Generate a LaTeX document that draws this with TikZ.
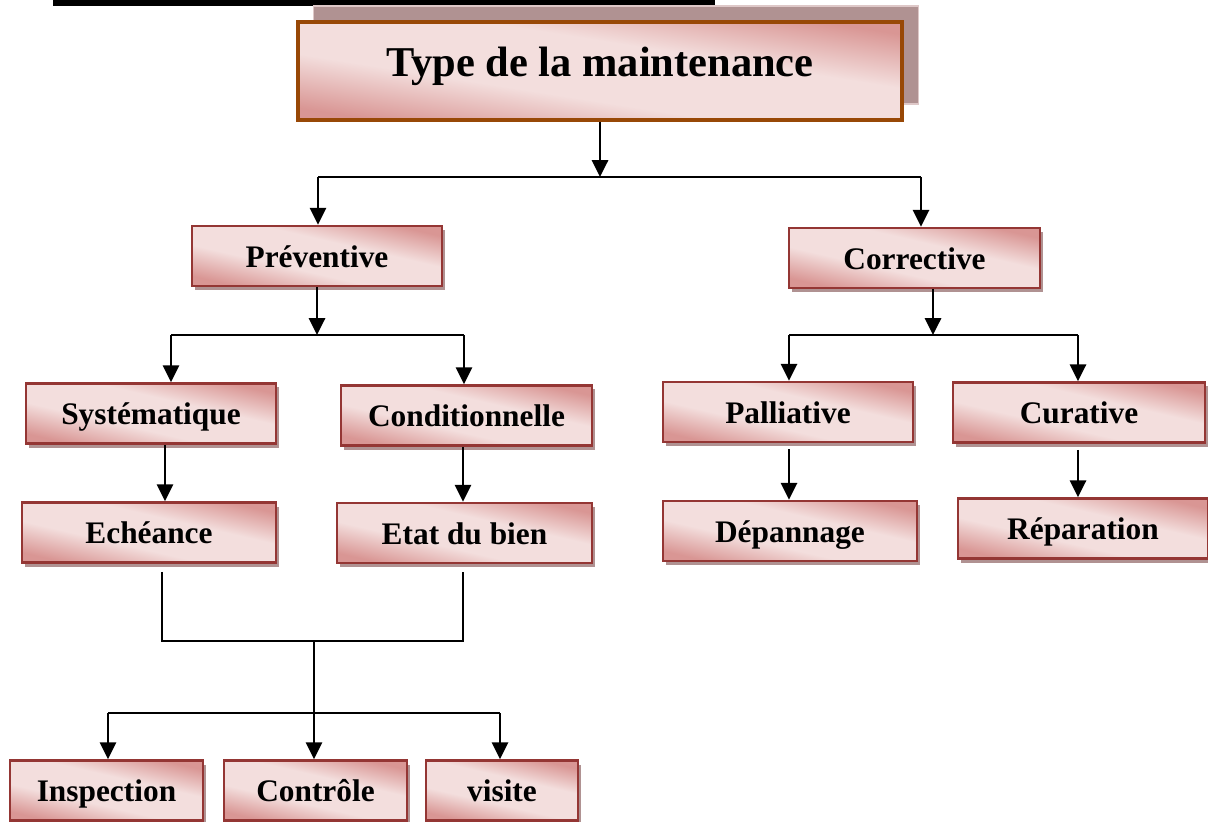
\documentclass[tikz,border=0pt]{standalone}
\usepackage{fontspec}
\setmainfont{Liberation Serif}
\usepackage{tikz}
\usetikzlibrary{positioning, arrows.meta, shadows}
\definecolor{boxline}{RGB}{148,54,52}
\definecolor{boxdark}{RGB}{217,150,148}
\definecolor{boxlight}{RGB}{243,222,221}
\definecolor{shadowgray}{RGB}{176,146,146}
\definecolor{shadowedge}{RGB}{222,200,200}
\definecolor{titleline}{RGB}{152,72,6}
\pgfdeclareverticalshading{pinkband}{100bp}{color(0bp)=(boxdark); color(25bp)=(boxdark);
  color(41bp)=(boxlight); color(59bp)=(boxlight); color(75bp)=(boxdark); color(100bp)=(boxdark)}

\begin{document}
\begin{tikzpicture}[x=0.025cm, y=-0.025cm,
  boxfill/.style={rectangle, draw=boxline, line width=1.8pt,
                  shade, shading=pinkband, shading angle=-13,
                  minimum height=1.5cm, inner sep=0pt,
                  text height=0.6cm, text depth=0.03cm,
                  font=\fontsize{22.3}{26}\selectfont\bfseries},
  typebox/.style={boxfill,
                  drop shadow={shadow xshift=0.07cm, shadow yshift=-0.1cm,
                               fill=shadowgray, opacity=1}},
  titlebox/.style={boxfill, draw=titleline, line width=2.8pt, shading angle=-9,
                   minimum width=15.1cm, minimum height=2.45cm,
                   text height=0.8cm, text depth=0.55cm,
                   font=\fontsize{30.2}{34}\selectfont\bfseries,
                   drop shadow={shadow xshift=0.4cm, shadow yshift=0.4cm,
                                fill=shadowgray, draw=shadowedge,
                                line width=0.8pt, opacity=1}},
  arr/.style={-{Triangle[length=0.42cm, width=0.4cm]}, line width=2pt},
  link/.style={line width=1.4pt}
]
\useasboundingbox (0,0) rectangle (1208,821);

% title, cut at the top of the page
\draw[line width=4.5pt] (53,3) -- (715,3);
\node[titlebox] (type) at (600,71) {Type de la maintenance};

% first level
\node[typebox, minimum width=6.25cm]  (prev) at (317,256)   {Préventive};
\node[typebox, minimum width=6.275cm] (corr) at (914.5,258) {Corrective};

% preventive side
\node[typebox, minimum width=6.25cm]  (syst) at (151,413.5)   {Systématique};
\node[typebox, minimum width=6.275cm] (cond) at (466.5,415.5) {Conditionnelle};
\node[typebox, minimum width=6.35cm]  (eche) at (149,532.5)   {Echéance};
\node[typebox, minimum width=6.375cm] (etat) at (464.5,533)   {Etat du bien};
\node[typebox, minimum width=4.825cm] (insp) at (106.5,790.5) {Inspection};
\node[typebox, minimum width=4.575cm] (ctrl) at (315.5,790.5) {Contrôle};
\node[typebox, minimum width=3.8cm]   (visi) at (502,790.5)   {visite};

% corrective side
\node[typebox, minimum width=6.25cm] (pall) at (788,412)    {Palliative};
\node[typebox, minimum width=6.3cm]  (cura) at (1079,412.5) {Curative};
\node[typebox, minimum width=6.35cm] (depa) at (790,531)    {Dépannage};
\node[typebox, minimum width=6.25cm] (repa) at (1083,528.5) {Réparation};

% junctions
\coordinate (jtl) at (318,177);
\coordinate (jtr) at (921,177);
\coordinate (jpl) at (171,335);
\coordinate (jpr) at (464,335);
\coordinate (sd)  at (165,444);
\coordinate (ml)  at (162,641);
\coordinate (mr)  at (463,641);
\coordinate (mc)  at (314,641);
\coordinate (bl)  at (108,713);
\coordinate (br)  at (500,713);
\coordinate (cd)  at (933,335);
\coordinate (jcl) at (789,335);
\coordinate (jcr) at (1078,335);

\draw[arr]  (type.south) -- (type.south |- jtl);
\draw[link] (jtl) -- (jtr);
\draw[arr]  (jtl) -- (jtl |- prev.north);
\draw[arr]  (jtr) -- (jtr |- corr.north);

\draw[arr]  (prev.south) -- (prev.south |- jpl);
\draw[link] (jpl) -- (jpr);
\draw[arr]  (jpl) -- (jpl |- syst.north);
\draw[arr]  (jpr) -- (jpr |- cond.north);
\draw[arr]  (syst.south -| sd) -- (eche.north -| sd);
\draw[arr]  (cond.south -| mr) -- (etat.north -| mr);

\draw[link] ([yshift=-0.2cm]eche.south -| ml) -- (ml) -- (mr)
            -- ([yshift=-0.2cm]etat.south -| mr);
\draw[arr]  (mc) -- (mc |- ctrl.north);
\draw[link] (bl) -- (br);
\draw[arr]  (bl) -- (bl |- insp.north);
\draw[arr]  (br) -- (br |- visi.north);

\draw[arr]  (corr.south -| cd) -- (cd);
\draw[link] (jcl) -- (jcr);
\draw[arr]  (jcl) -- (jcl |- pall.north);
\draw[arr]  (jcr) -- (jcr |- cura.north);
\draw[arr]  ([yshift=-0.15cm]pall.south -| jcl) -- (jcl |- depa.north);
\draw[arr]  ([yshift=-0.15cm]cura.south -| jcr) -- (jcr |- repa.north);

\end{tikzpicture}
\end{document}
